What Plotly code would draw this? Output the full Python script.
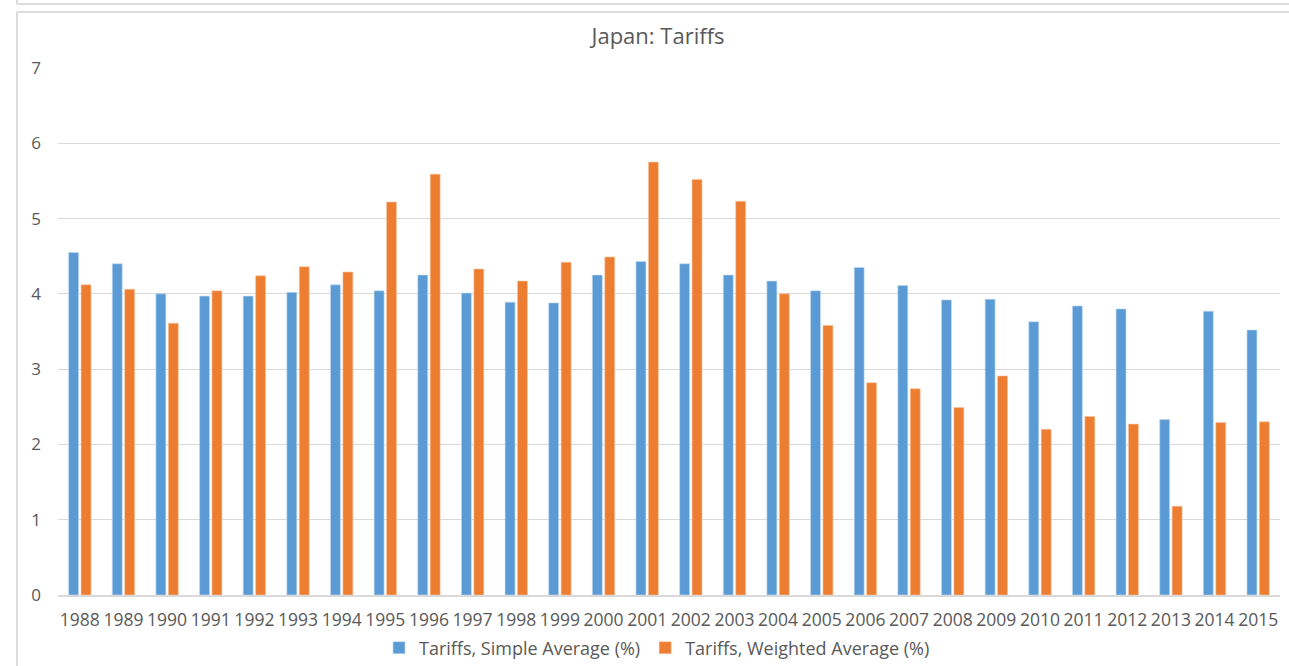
import plotly.graph_objects as go

BLUE   = "#5B9BD5"
ORANGE = "#ED7D31"
GRID   = "#d9d9d9"
TEXT   = "#595959"
FONT   = "Open Sans, sans-serif"

years = [str(y) for y in range(1988, 2016)]
simple_avg = [4.55, 4.40, 4.00, 3.97, 3.97, 4.02, 4.12, 4.04, 4.25, 4.01,
              3.89, 3.88, 4.25, 4.43, 4.40, 4.25, 4.17, 4.04, 4.35, 4.11,
              3.92, 3.93, 3.63, 3.84, 3.80, 2.33, 3.77, 3.52]
weighted_avg = [4.12, 4.06, 3.61, 4.04, 4.24, 4.36, 4.29, 5.22, 5.59, 4.33,
                4.17, 4.42, 4.49, 5.75, 5.52, 5.23, 4.00, 3.58, 2.82, 2.74,
                2.49, 2.91, 2.20, 2.37, 2.27, 1.18, 2.29, 2.30]

W, H = 1289, 666
ML, MR, MT, MB = 58, 9, 68, 71
PW, PH = W - ML - MR, H - MT - MB


def px(x):
    return (x - ML) / PW


def py(y):
    return (H - MB - y) / PH


fig = go.Figure()
fig.add_trace(go.Bar(x=years, y=simple_avg, name="Tariffs, Simple Average (%)",
                     marker=dict(color=BLUE, line=dict(color="#c5dcf0", width=0.6))))
fig.add_trace(go.Bar(x=years, y=weighted_avg, name="Tariffs, Weighted Average (%)",
                     marker=dict(color=ORANGE, line=dict(color="#f7c6a3", width=0.6))))

# chart frame borders (Excel-like container)
border = dict(type="line", xref="paper", yref="paper",
              line=dict(color="#dcdcdc", width=2), layer="above")
shapes = [
    dict(border, x0=px(17), x1=px(17), y0=py(12), y1=py(700)),
    dict(border, x0=px(17), x1=px(1300), y0=py(12), y1=py(12)),
    dict(border, x0=px(17), x1=px(1300), y0=py(4), y1=py(4)),
    dict(border, x0=px(17), x1=px(17), y0=py(4), y1=py(-10)),
]

fig.update_layout(
    width=W, height=H,
    paper_bgcolor="white", plot_bgcolor="white",
    font=dict(family=FONT, color=TEXT, size=16),
    title=dict(text="Japan: Tariffs", x=658 / W, xanchor="center",
               y=1 - 36 / H, yanchor="middle", yref="container",
               font=dict(size=22, color=TEXT)),
    barmode="group", bargap=0.43, bargroupgap=0.2,
    margin=dict(l=ML, r=MR, t=MT, b=MB),
    showlegend=True,
    legend=dict(orientation="h", x=657 / W, xref="container", xanchor="center",
                y=1 - 648 / H, yref="container", yanchor="middle",
                font=dict(size=18, color=TEXT), itemclick=False),
    shapes=shapes,
)
fig.update_xaxes(type="category", showgrid=False, showline=True, linecolor=GRID,
                 linewidth=1.5, ticks="", tickfont=dict(size=17.5, color=TEXT),
                 ticklabelstandoff=8, automargin=False)
fig.update_yaxes(range=[0, 7], dtick=1, showgrid=True, gridcolor=GRID, gridwidth=1.3,
                 zeroline=False, showline=False, ticks="", automargin=False,
                 tickfont=dict(size=17, color=TEXT), ticklabelstandoff=16)

# page body has a default 8px margin; remove it so the figure fills the window
fig.write_html("out.html", config={"displayModeBar": False},
               post_script="document.body.style.margin='0';")
